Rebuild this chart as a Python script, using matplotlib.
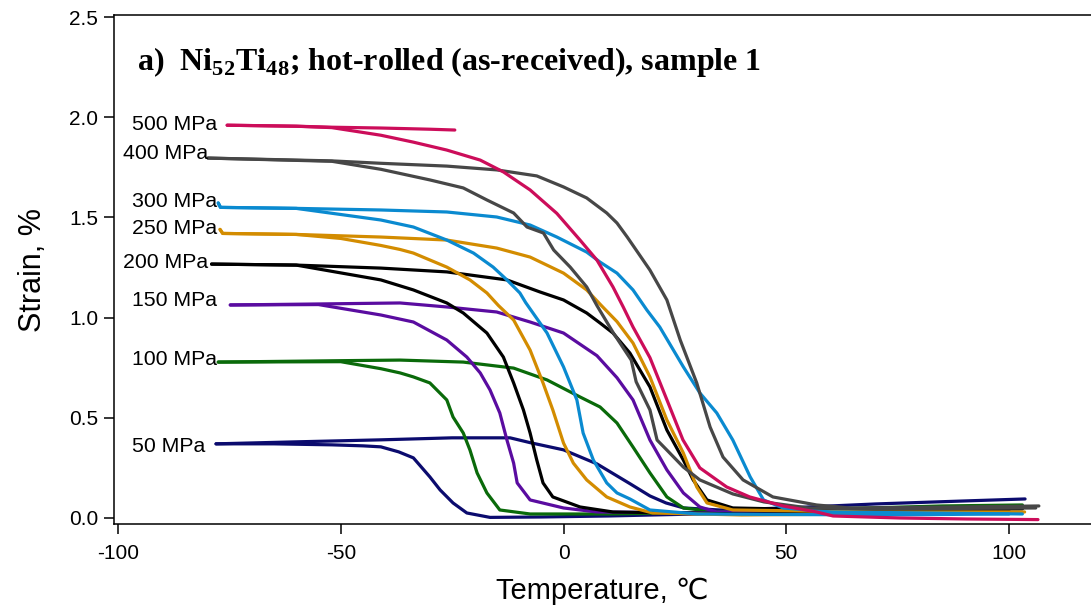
"""
Strain vs temperature under constant load, Ni52Ti48 hot-rolled, sample 1.
Each load has a cooling and a heating branch.
"""
import matplotlib
matplotlib.use("Agg")
import matplotlib.pyplot as plt

plt.rcParams.update({
    "font.family": ["Liberation Sans", "DejaVu Sans"],
    "font.size": 15,
    "axes.unicode_minus": False,
    "axes.linewidth": 1.1,
    "mathtext.fontset": "custom",
    "mathtext.rm": "Liberation Serif:bold",
    "mathtext.bf": "Liberation Serif:bold",
})

# ── data: temperature (°C) / strain (%) per load and branch ──────────────
T_C_50 = [-78, -65, -52, -45, -41, -37, -33.7, -30, -27.7, -24.8, -21.7, -16.5, -5, 10, 30, 60, 100]
S_C_50 = [0.37, 0.37, 0.365, 0.36, 0.355, 0.33, 0.30, 0.205, 0.14, 0.075, 0.025, 0.003, 0.005, 0.01, 0.02, 0.04, 0.05]
T_H_50 = [-78, -60, -41, -25, -12, -7.5, 0, 7.5, 15, 19.4, 23, 27, 35, 50, 70, 90, 103.6]
S_H_50 = [0.37, 0.38, 0.39, 0.40, 0.40, 0.376, 0.34, 0.27, 0.17, 0.11, 0.075, 0.05, 0.04, 0.05, 0.07, 0.085, 0.095]

T_C_100 = [-77.5, -50, -41, -36.7, -33.7, -30, -26.2, -24.8, -22.5, -21, -19.4, -17.2, -14.3, -7.5, 10, 40, 70, 100]
S_C_100 = [0.778, 0.78, 0.745, 0.724, 0.704, 0.674, 0.589, 0.504, 0.424, 0.339, 0.225, 0.125, 0.04, 0.02, 0.02, 0.03, 0.045, 0.05]
T_H_100 = [-77.5, -50, -36.7, -22.5, -11.2, -3.7, 3.7, 8.2, 12, 15.6, 19.4, 23.2, 26.9, 34.4, 60, 85, 103]
S_H_100 = [0.778, 0.785, 0.788, 0.778, 0.748, 0.689, 0.604, 0.554, 0.474, 0.354, 0.225, 0.105, 0.05, 0.03, 0.045, 0.06, 0.065]

T_C_150 = [-74.8, -55, -41, -33.7, -26.2, -21.7, -18.7, -16.5, -14.3, -12.7, -11.2, -10.4, -7.5, 0, 7.5, 30, 70, 100]
S_C_150 = [1.063, 1.065, 1.013, 0.978, 0.888, 0.803, 0.724, 0.639, 0.524, 0.389, 0.274, 0.175, 0.09, 0.05, 0.03, 0.025, 0.035, 0.04]
T_H_150 = [-74.8, -55, -36.7, -26.2, -15, -7.5, 0, 7.5, 12, 15.6, 19.4, 23.2, 26.9, 30.6, 34.4, 60, 103]
S_H_150 = [1.063, 1.068, 1.073, 1.053, 1.028, 0.978, 0.923, 0.81, 0.70, 0.589, 0.389, 0.24, 0.125, 0.055, 0.03, 0.04, 0.05]

T_C_200 = [-79, -60, -41, -33.7, -26.2, -22.5, -17.2, -13.5, -11.2, -9, -7.5, -6, -4.6, -2.4, 3.7, 11.1, 40, 70, 100]
S_C_200 = [1.267, 1.262, 1.188, 1.138, 1.073, 1.023, 0.923, 0.803, 0.674, 0.539, 0.424, 0.289, 0.175, 0.105, 0.055, 0.03, 0.02, 0.025, 0.03]
T_H_200 = [-79, -60, -41, -26.2, -12.7, -5.3, 0, 5.2, 8.2, 11.1, 14.9, 19.4, 23.2, 26.9, 29.1, 32.2, 38, 60, 103]
S_H_200 = [1.267, 1.262, 1.247, 1.228, 1.188, 1.128, 1.088, 1.023, 0.973, 0.923, 0.823, 0.654, 0.439, 0.289, 0.19, 0.09, 0.05, 0.04, 0.045]

T_C_250 = [-77.1, -76.5, -60, -50, -41, -36.7, -33.7, -26.2, -21, -17.2, -14.6, -11.2, -7.5, -4.6, -2.4, 0, 2.2, 5.2, 9.7, 14.9, 20, 40, 70, 100]
S_C_250 = [1.44, 1.42, 1.415, 1.395, 1.36, 1.34, 1.322, 1.252, 1.188, 1.123, 1.06, 0.988, 0.838, 0.674, 0.539, 0.374, 0.274, 0.19, 0.105, 0.055, 0.025, 0.015, 0.02, 0.025]
T_H_250 = [-77.1, -76.5, -60, -41, -26.2, -15, -7.5, 0, 5.2, 8.5, 12, 15.6, 19.4, 23.2, 26.9, 29.9, 32.2, 38, 70, 103.5]
S_H_250 = [1.44, 1.42, 1.415, 1.402, 1.387, 1.347, 1.302, 1.222, 1.138, 1.06, 0.98, 0.873, 0.704, 0.489, 0.324, 0.155, 0.075, 0.04, 0.03, 0.03]

T_C_300 = [-77.5, -77, -60, -41, -33.7, -26.2, -20.2, -15.8, -12.7, -9.8, -8.5, -3.7, 0, 3, 4.4, 6.7, 9.7, 12, 14.9, 19.4, 30, 70, 100]
S_C_300 = [1.572, 1.55, 1.545, 1.487, 1.452, 1.387, 1.322, 1.252, 1.188, 1.123, 1.075, 0.923, 0.754, 0.589, 0.424, 0.289, 0.175, 0.125, 0.095, 0.04, 0.02, 0.015, 0.02]
T_H_300 = [-77.5, -77, -60, -41, -26.2, -15, -7.5, -1.5, 5.2, 8.2, 12, 15.6, 18.7, 21.6, 26.9, 30.6, 34.4, 38, 41.9, 44.9, 49.3, 60, 103]
S_H_300 = [1.572, 1.55, 1.545, 1.537, 1.527, 1.502, 1.462, 1.402, 1.327, 1.277, 1.222, 1.138, 1.038, 0.953, 0.754, 0.624, 0.524, 0.389, 0.205, 0.09, 0.05, 0.03, 0.02]

T_C_400 = [-79.8, -52, -41, -30, -22.5, -17.2, -11.2, -8.2, -4.5, -2.2, 1.5, 5.2, 7.5, 11.2, 15.2, 16.3, 19.4, 21, 23.2, 26.9, 30.6, 38, 45, 55, 70, 106]
S_C_400 = [1.796, 1.78, 1.74, 1.687, 1.647, 1.587, 1.522, 1.452, 1.422, 1.337, 1.252, 1.153, 1.06, 0.923, 0.788, 0.68, 0.539, 0.389, 0.339, 0.254, 0.19, 0.12, 0.08, 0.05, 0.045, 0.05]
T_H_400 = [-79.8, -52, -41, -26.2, -15, -6, 0, 5.2, 9.7, 12, 14.3, 19.4, 23.2, 26.2, 29.9, 32.9, 35.8, 40.3, 47, 56.8, 64.3, 90, 106.7]
S_H_400 = [1.796, 1.782, 1.77, 1.756, 1.737, 1.707, 1.652, 1.597, 1.522, 1.472, 1.402, 1.237, 1.088, 0.888, 0.674, 0.454, 0.304, 0.19, 0.105, 0.065, 0.05, 0.055, 0.06]

T_C_500 = [-75.5, -60, -52, -41, -30, -24.4]
S_C_500 = [1.96, 1.955, 1.95, 1.946, 1.94, 1.936]
T_H_500 = [-75.5, -60, -52, -41, -33.8, -26.2, -18.7, -13.5, -7.5, -1.5, 3.7, 7.5, 11.1, 13.4, 15.6, 19.4, 23.2, 26.8, 30.6, 36.6, 41.8, 49.3, 56.8, 60.5, 75.5, 90.5, 106.5]
S_H_500 = [1.96, 1.955, 1.948, 1.91, 1.876, 1.836, 1.786, 1.727, 1.637, 1.52, 1.387, 1.287, 1.153, 1.053, 0.953, 0.80, 0.59, 0.39, 0.25, 0.155, 0.105, 0.06, 0.03, 0.01, 0.0, -0.005, -0.008]

LOADS = [50, 100, 150, 200, 250, 300, 400, 500]
COLORS = {
    50: "#0b0b6e", 100: "#0a6a0a", 150: "#5a0ca0", 200: "#000000",
    250: "#d38c00", 300: "#0a8ad0", 400: "#474747", 500: "#cc0d5a",
}
BRANCHES = {
    50: (T_C_50, S_C_50, T_H_50, S_H_50),
    100: (T_C_100, S_C_100, T_H_100, S_H_100),
    150: (T_C_150, S_C_150, T_H_150, S_H_150),
    200: (T_C_200, S_C_200, T_H_200, S_H_200),
    250: (T_C_250, S_C_250, T_H_250, S_H_250),
    300: (T_C_300, S_C_300, T_H_300, S_H_300),
    400: (T_C_400, S_C_400, T_H_400, S_H_400),
    500: (T_C_500, S_C_500, T_H_500, S_H_500),
}

# label anchor (left edge x in °C, centre y in strain)
LABEL_POS = {
    500: (-96.9, 1.966), 400: (-98.9, 1.821), 300: (-96.9, 1.577),
    250: (-96.9, 1.447), 200: (-98.9, 1.277), 150: (-96.9, 1.083),
    100: (-96.9, 0.793), 50: (-96.9, 0.359),
}

fig = plt.figure(figsize=(10.91, 6.12), dpi=100)
ax = fig.add_axes([114 / 1091, 1 - 524 / 612, 1 - 114 / 1091, (524 - 15) / 612])

for load in LOADS:
    tc, sc, th, sh = BRANCHES[load]
    col = COLORS[load]
    ax.plot(tc, sc, color=col, lw=2.3, solid_capstyle="round", solid_joinstyle="round")
    ax.plot(th, sh, color=col, lw=2.3, solid_capstyle="round", solid_joinstyle="round")
    lx, ly = LABEL_POS[load]
    ax.text(lx, ly, f"{load} MPa", ha="left", va="center", fontsize=15.3)

ax.set_xlim(-100.9, 118.4)
ax.set_ylim(-0.03, 2.51)
ax.set_xticks([-100, -50, 0, 50, 100])
ax.set_yticks([0, 0.5, 1.0, 1.5, 2.0, 2.5])
ax.set_yticklabels(["0.0", "0.5", "1.0", "1.5", "2.0", "2.5"])
ax.tick_params(direction="out", length=7.5, width=1.1, labelsize=15)
ax.tick_params(axis="x", pad=7)
ax.tick_params(axis="y", pad=4)
ax.spines["right"].set_visible(False)

ax.set_xlabel("Temperature, ℃", fontsize=21, labelpad=10)
ax.set_ylabel("Strain, %", fontsize=22, labelpad=15)

ax.text(0.0235, 0.908,
        r"a)  Ni$_{\mathrm{52}}$Ti$_{\mathrm{48}}$; hot-rolled (as-received), sample 1",
        transform=ax.transAxes, ha="left", va="center",
        fontsize=23, fontweight="bold", family="Liberation Serif")

fig.savefig("out.png", dpi=100)
